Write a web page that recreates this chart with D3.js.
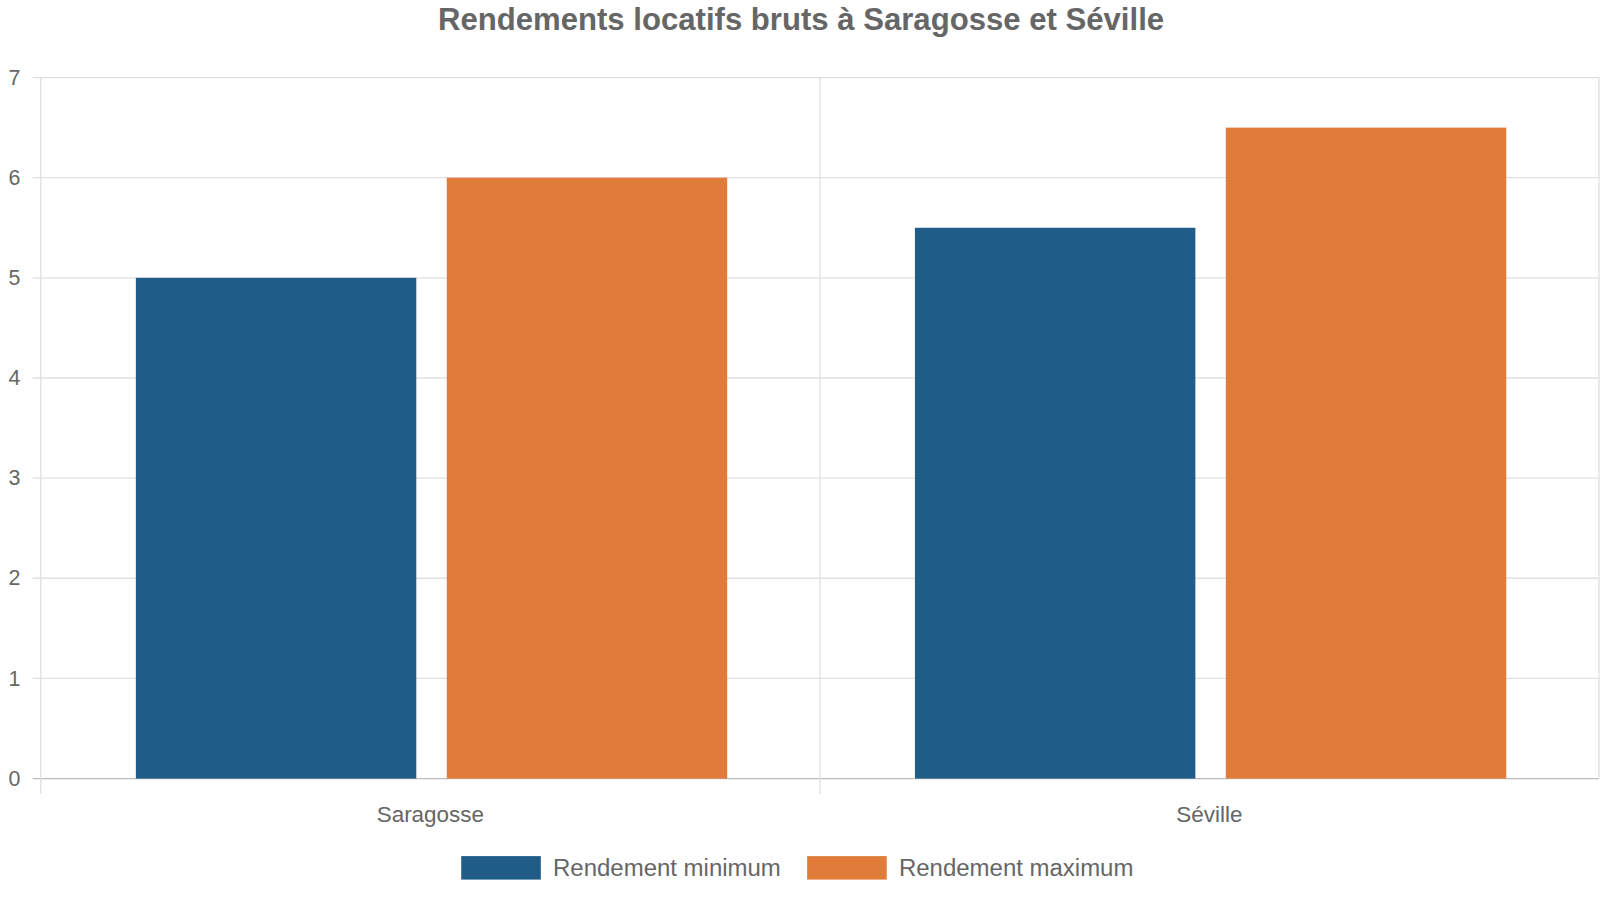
<!DOCTYPE html>
<html><head><meta charset="utf-8">
<script src="https://cdn.jsdelivr.net/npm/d3@7"></script>
<style>body{margin:0;background:#fff;font-family:"Liberation Sans",Arial,sans-serif}</style>
</head><body><svg id="c" width="1600" height="900"></svg>
<script>
const categories=["Saragosse","Séville"];
const seriesNames=["Rendement minimum","Rendement maximum"];
const minValues=[5,5.5];
const maxValues=[6,6.5];
const yTicks=[0,1,2,3,4,5,6,7];
const colors=["#1f5c87","#e07b39"];
const svg=d3.select("#c").append("g").attr("transform","scale(1.0204)");
const L=40,R=1567,T=76,B=763;
const y=d3.scaleLinear().domain([0,7]).range([B,T]);
const x0=d3.scaleBand().domain(categories).range([L,R]).padding(0);
const bw=x0.bandwidth();
const x1=d3.scaleBand().domain(seriesNames).range([bw*0.122,bw*0.881]).paddingInner(0.098).paddingOuter(0);
const txt="#666";
svg.append("text").attr("x",785).attr("y",29).attr("text-anchor","middle").attr("font-size",30.5).attr("font-weight","bold").attr("fill",txt).text("Rendements locatifs bruts à Saragosse et Séville");
const g=svg.append("g");
yTicks.forEach(t=>{g.append("line").attr("x1",L-8).attr("x2",R).attr("y1",y(t)).attr("y2",y(t)).attr("stroke",t===0?"#bbb":"#e0e0e0").attr("stroke-width",1.3);
g.append("text").attr("x",20).attr("y",y(t)+7).attr("text-anchor","end").attr("font-size",21).attr("fill",txt).text(t);});
[L,x0("Séville"),R].forEach(v=>g.append("line").attr("x1",v).attr("x2",v).attr("y1",T).attr("y2",v===R?B:778).attr("stroke","#e0e0e0").attr("stroke-width",1.3));
const data=categories.map((c,i)=>[minValues[i],maxValues[i]]);
categories.forEach((c,i)=>{
 seriesNames.forEach((s,j)=>{
  g.append("rect").attr("x",x0(c)+x1(s)).attr("width",x1.bandwidth()).attr("y",y(data[i][j])).attr("height",B-y(data[i][j])).attr("fill",colors[j]);
 });
 g.append("text").attr("x",x0(c)+bw/2).attr("y",806).attr("text-anchor","middle").attr("font-size",22).attr("fill",txt).text(c);
});
const leg=[[452,542],[791,881]];
seriesNames.forEach((s,j)=>{
 svg.append("rect").attr("x",leg[j][0]).attr("y",839).attr("width",78).attr("height",23).attr("fill",colors[j]);
 svg.append("text").attr("x",leg[j][1]).attr("y",858).attr("font-size",23.5).attr("fill",txt).text(s);
});
</script></body></html>
